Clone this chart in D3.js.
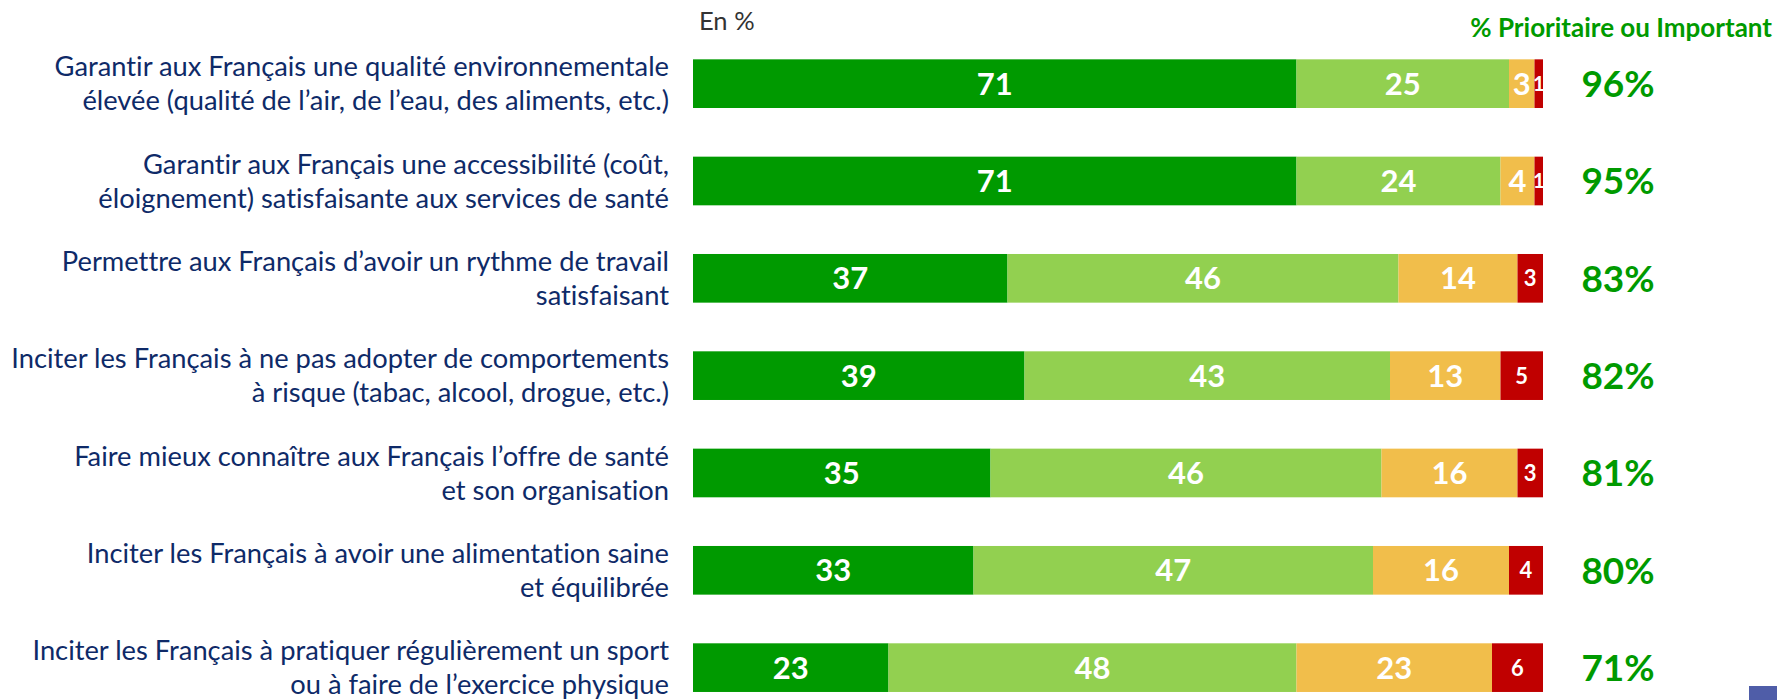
<!DOCTYPE html>
<html>
<head>
<meta charset="utf-8">
<script src="https://cdn.jsdelivr.net/npm/d3@7"></script>
<style>
  html, body { margin: 0; padding: 0; background: #fff; }
  svg { display: block; }
  text { font-variant-ligatures: none; font-feature-settings: "liga" 0, "clig" 0; }
</style>
</head>
<body>
<svg id="chart" width="1777" height="700"></svg>
<script>
// ---- data ----
const categories = [
  ["Garantir aux Français une qualité environnementale", "élevée (qualité de l’air, de l’eau, des aliments, etc.)"],
  ["Garantir aux Français une accessibilité (coût,", "éloignement) satisfaisante aux services de santé"],
  ["Permettre aux Français d’avoir un rythme de travail", "satisfaisant"],
  ["Inciter les Français à ne pas adopter de comportements", "à risque (tabac, alcool, drogue, etc.)"],
  ["Faire mieux connaître aux Français l’offre de santé", "et son organisation"],
  ["Inciter les Français à avoir une alimentation saine", "et équilibrée"],
  ["Inciter les Français à pratiquer régulièrement un sport", "ou à faire de l’exercice physique"]
];
const seriesNames = ["Prioritaire", "Important", "Secondaire", "Pas important"];
const prioritaire  = [71, 71, 37, 39, 35, 33, 23];
const important    = [25, 24, 46, 43, 46, 47, 48];
const secondaire   = [3, 4, 14, 13, 16, 16, 23];
const pasImportant = [1, 1, 3, 5, 3, 4, 6];
const totals       = [96, 95, 83, 82, 81, 80, 71];
const unitLabel = "En %";
const totalHeader = "% Prioritaire ou Important";

// ---- styles ----
const colors = ["#009A00", "#92D050", "#F1BE4B", "#C00000"];
const labelColor = "#0E2A68";
const green = "#009A00";
const font = "Lato, 'Noto Sans', sans-serif";

const rows = categories.map((c, i) => ({
  idx: i,
  "Prioritaire": prioritaire[i],
  "Important": important[i],
  "Secondaire": secondaire[i],
  "Pas important": pasImportant[i]
}));

const svg = d3.select("#chart");

const x = d3.scaleLinear().domain([0, 100]).range([693, 1543]);
const y = d3.scaleBand().domain(d3.range(categories.length))
  .range([35, 716.3]).paddingInner(0.5).paddingOuter(0.25);

const stacked = d3.stack().keys(seriesNames)(rows);

const layers = svg.append("g").selectAll("g")
  .data(stacked).join("g")
  .attr("fill", (d, i) => colors[i]);

layers.selectAll("rect")
  .data(d => d.map(v => ({v, key: d.key})))
  .join("rect")
  .attr("x", d => x(d.v[0]))
  .attr("y", d => y(d.v.data.idx))
  .attr("width", d => x(d.v[1]) - x(d.v[0]))
  .attr("height", y.bandwidth());

// segment value labels
layers.each(function(layer, li) {
  d3.select(this).selectAll("text")
    .data(layer.map(v => v))
    .join("text")
    .attr("x", v => (x(v[0]) + x(v[1])) / 2)
    .attr("y", v => y(v.data.idx) + y.bandwidth() / 2)
    .attr("dy", "0.36em")
    .attr("text-anchor", "middle")
    .attr("fill", "#fff")
    .attr("font-family", font)
    .attr("font-weight", 700)
    .attr("font-size", v => (li === 3 ? ((v[1] - v[0]) < 2 ? 20 : 22) : 31))
    .text(v => v[1] - v[0]);
});

// category labels (two lines, right aligned)
const lab = svg.append("g").selectAll("text")
  .data(categories).join("text")
  .attr("text-anchor", "end")
  .attr("font-family", font)
  .attr("font-size", 27.3)
  .attr("fill", labelColor);
lab.each(function(lines, i) {
  const cy = y(i) + y.bandwidth() / 2;
  d3.select(this).selectAll("tspan")
    .data(lines).join("tspan")
    .attr("x", 669)
    .attr("y", (d, j) => cy + (j - 0.5) * 34)
    .attr("dy", "0.36em")
    .text(d => d);
});

// totals
svg.append("g").selectAll("text")
  .data(totals).join("text")
  .attr("x", 1618)
  .attr("y", (d, i) => y(i) + y.bandwidth() / 2)
  .attr("dy", "0.36em")
  .attr("text-anchor", "middle")
  .attr("font-family", font)
  .attr("font-weight", 700)
  .attr("font-size", 37)
  .attr("fill", green)
  .text(d => d + "%");

// header texts
svg.append("text")
  .attr("x", 699).attr("y", 30)
  .attr("font-family", font).attr("font-size", 25.5)
  .attr("fill", "#333")
  .text(unitLabel);

svg.append("text")
  .attr("x", 1772).attr("y", 37)
  .attr("text-anchor", "end")
  .attr("font-family", font).attr("font-weight", 700).attr("font-size", 26)
  .attr("fill", green)
  .text(totalHeader);

// small corner square
svg.append("rect")
  .attr("x", 1749).attr("y", 686).attr("width", 28).attr("height", 14)
  .attr("fill", "#4F5DA8");
</script>
</body>
</html>
